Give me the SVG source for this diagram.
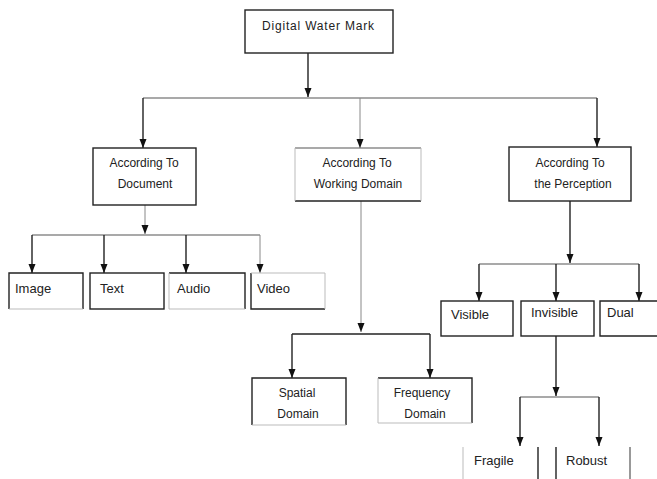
<svg xmlns="http://www.w3.org/2000/svg" width="657" height="479" viewBox="0 0 657 479">
<defs>
<marker id="ah" markerUnits="userSpaceOnUse" markerWidth="10" markerHeight="10" viewBox="0 0 10 10" refX="9" refY="5" orient="auto">
<path d="M0,1.5 L9,5 L0,8.5 Z" fill="#111"/>
</marker>
<style>
text{font-family:"Liberation Sans",Arial,sans-serif;font-size:12px;fill:#222}
.c{text-anchor:middle}
.lf{font-size:13px}
.dk{stroke:#222;stroke-width:1.4;fill:none}
.md{stroke:#555;stroke-width:1.2;fill:none}
.lt{stroke:#bbb;stroke-width:1;fill:none}
.ln{stroke:#222;stroke-width:1.4;fill:none}
.lg{stroke:#888;stroke-width:1;fill:none}
</style>
</defs>
<rect width="657" height="479" fill="#fff"/>

<g id="connectors">
<path class="ln" d="M308,53 V97" marker-end="url(#ah)"/>
<path class="md" d="M143,98 H597"/>
<path class="ln" d="M143,98 V148" marker-end="url(#ah)"/>
<path class="lg" d="M360,98 V148" marker-end="url(#ah)"/>
<path class="ln" d="M597,98 V147" marker-end="url(#ah)"/>

<path class="lg" d="M145,205 V234" marker-end="url(#ah)"/>
<path class="md" d="M32,235 H260"/>
<path class="ln" d="M32,235 V273" marker-end="url(#ah)"/>
<path class="ln" d="M104,235 V273" marker-end="url(#ah)"/>
<path class="ln" d="M186,235 V273" marker-end="url(#ah)"/>
<path class="lg" d="M260,235 V273" marker-end="url(#ah)"/>

<path class="lg" d="M361,201 V332" marker-end="url(#ah)"/>
<path class="ln" d="M292,334 H430"/>
<path class="ln" d="M292,334 V378" marker-end="url(#ah)"/>
<path class="ln" d="M430,334 V378" marker-end="url(#ah)"/>

<path class="ln" d="M570,201 V263" marker-end="url(#ah)"/>
<path class="md" d="M479,264 H639"/>
<path class="ln" d="M479,264 V301" marker-end="url(#ah)"/>
<path class="ln" d="M556,264 V301" marker-end="url(#ah)"/>
<path class="ln" d="M639,264 V301" marker-end="url(#ah)"/>

<path class="ln" d="M556,336 V396" marker-end="url(#ah)"/>
<path class="md" d="M520,397 H599"/>
<path class="ln" d="M520,397 V446" marker-end="url(#ah)"/>
<path class="ln" d="M599,397 V446" marker-end="url(#ah)"/>
</g>

<g id="n-root">
<rect class="dk" x="245" y="10" width="148" height="43"/>
<text class="c" x="318" y="30" textLength="112">Digital Water Mark</text>
</g>

<g id="n-document">
<rect class="dk" x="93" y="148" width="103" height="57"/>
<text class="c" x="144" y="167">According To</text>
<text class="c" x="145" y="188">Document</text>
</g>

<g id="n-working">
<path class="md" d="M295,148 H421"/>
<path class="dk" d="M295,201 H421"/>
<path class="lt" d="M295,148 V201 M421,148 V201"/>
<text class="c" x="357" y="167">According To</text>
<text class="c" x="358" y="188">Working Domain</text>
</g>

<g id="n-perception">
<rect class="dk" x="509" y="147" width="122" height="54"/>
<text class="c" x="570" y="167">According To</text>
<text class="c" x="573" y="188">the Perception</text>
</g>

<g id="n-image">
<path class="dk" d="M9,309 V273 H83 V309"/>
<path class="lt" d="M9,309 H83"/>
<text class="lf" x="15" y="293">Image</text>
</g>

<g id="n-text">
<rect class="dk" x="90" y="273" width="74" height="36"/>
<text class="lf" x="100" y="293">Text</text>
</g>

<g id="n-audio">
<path class="dk" d="M169,273 H245 V309"/>
<path class="lt" d="M169,273 V309 H245"/>
<text class="lf" x="177" y="293">Audio</text>
</g>

<g id="n-video">
<path class="dk" d="M251,273 V309 H325"/>
<path class="lt" d="M251,273 H325 V309"/>
<text class="lf" x="257" y="293">Video</text>
</g>

<g id="n-spatial">
<path class="dk" d="M252,425 V378 H346 V425"/>
<path class="lt" d="M252,425 H346"/>
<text class="c" x="297" y="397">Spatial</text>
<text class="c" x="298" y="418">Domain</text>
</g>

<g id="n-frequency">
<path class="dk" d="M378,378 H472 V423"/>
<path class="lt" d="M378,378 V423 H472"/>
<text class="c" x="422" y="397">Frequency</text>
<text class="c" x="425" y="418">Domain</text>
</g>

<g id="n-visible">
<rect class="dk" x="441" y="301" width="72" height="35"/>
<text class="lf" x="451" y="319">Visible</text>
</g>

<g id="n-invisible">
<rect class="dk" x="521" y="301" width="73" height="35"/>
<text class="lf" x="531" y="317">Invisible</text>
</g>

<g id="n-dual">
<path class="dk" d="M658,301 H600 V336 H658"/>
<text class="lf" x="607" y="317">Dual</text>
</g>

<g id="n-fragile">
<path class="lt" d="M463,447 V479"/>
<path class="dk" d="M538,447 V479"/>
<text class="lf" x="474" y="465">Fragile</text>
</g>

<g id="n-robust">
<path class="dk" d="M556,447 V479"/>
<path class="md" d="M630,447 V479"/>
<text class="lf" x="566" y="465">Robust</text>
</g>
</svg>
